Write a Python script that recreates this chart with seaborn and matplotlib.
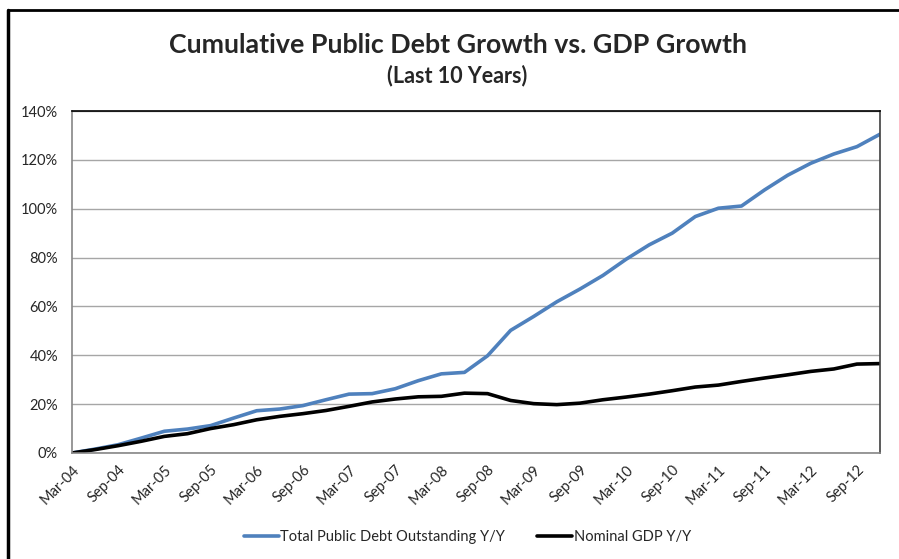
import pandas as pd
import numpy as np
import matplotlib
matplotlib.use('Agg')
import matplotlib.pyplot as plt
from matplotlib.lines import Line2D
from matplotlib.ticker import PercentFormatter
import seaborn as sns

# quarterly, Mar-04 .. Dec-12
quarters = pd.period_range('2004Q1', '2012Q4', freq='Q')
labels = [('Mar', 'Jun', 'Sep', 'Dec')[q.quarter - 1] + '-' + q.strftime('%y') for q in quarters]

debt = [0, 1.6, 3.4, 6.1, 8.9, 9.8, 11.2, 14.3, 17.3, 18.0, 19.4, 21.8, 24.1, 24.3,
        26.3, 29.6, 32.4, 33.0, 39.8, 50.2, 55.9, 61.9, 67.1, 72.7, 79.3, 85.2, 90.0,
        96.8, 100.2, 101.1, 107.7, 113.7, 118.6, 122.4, 125.4, 130.5]
gdp = [0, 1.4, 3.0, 4.8, 6.8, 7.9, 10.0, 11.6, 13.6, 15.0, 16.1, 17.4, 19.1, 20.9,
       22.1, 23.0, 23.2, 24.5, 24.3, 21.5, 20.2, 19.8, 20.4, 21.8, 22.9, 24.1, 25.5,
       27.0, 27.8, 29.3, 30.7, 32.0, 33.4, 34.4, 36.4, 36.6]

series_names = ['Total Public Debt Outstanding Y/Y', 'Nominal GDP Y/Y']

df = pd.DataFrame({
    'idx': list(range(len(labels))) * 2,
    'value': debt + gdp,
    'series': [series_names[0]] * len(debt) + [series_names[1]] * len(gdp),
})

sns.set_style('white')
plt.rcParams['font.family'] = ['Lato', 'DejaVu Sans']

fig = plt.figure(figsize=(8.99, 5.59), dpi=100)
ax = fig.add_axes([72 / 899, 1 - 453 / 559, 808 / 899, 342 / 559])

sns.lineplot(data=df, x='idx', y='value', hue='series', ax=ax,
             palette={series_names[0]: '#4F81BD', series_names[1]: 'black'},
             linewidth=2.6, legend=False)

ax.set_xlim(0, len(labels) - 1)
ax.set_ylim(0, 140)
ax.set_yticks(np.arange(0, 141, 20))
ax.yaxis.set_major_formatter(PercentFormatter(decimals=0))
ax.set_xticks(range(0, len(labels), 2))
ax.set_xticklabels(labels[::2], rotation=45, ha='right', rotation_mode='anchor')
ax.tick_params(axis='x', length=4, color='#868686', direction='out', labelsize=10.5, pad=3)
ax.tick_params(axis='y', length=0, labelsize=10.5, pad=10)
ax.set_xlabel('')
ax.set_ylabel('')
ax.grid(axis='y', color='#a6a6a6', linewidth=1)
ax.set_axisbelow(True)
for side in ['left', 'bottom']:
    ax.spines[side].set_color('#868686')
    ax.spines[side].set_linewidth(1.2)
ax.spines['top'].set_color('black')
ax.spines['right'].set_color('#404040')
ax.spines['top'].set_linewidth(1.2)
ax.spines['right'].set_linewidth(1.2)

fig.text(0.509, 1 - 45 / 559, 'Cumulative Public Debt Growth vs. GDP Growth',
         ha='center', va='center', fontsize=19.3, fontweight='bold')
fig.text(0.509, 1 - 76 / 559, '(Last 10 Years)', ha='center', va='center',
         fontsize=15.5, fontweight='bold')

handles = [Line2D([], [], color='#4F81BD', linewidth=2.6),
           Line2D([], [], color='black', linewidth=2.6)]
fig.legend(handles, series_names, loc='center', bbox_to_anchor=(0.52, 1 - 537 / 559),
           ncol=2, frameon=False, fontsize=10.5, handlelength=2.4, handletextpad=0.1,
           columnspacing=2.2)

# outer chart-area border
fig.add_artist(Line2D([8 / 899, 1], [1 - 10 / 559, 1 - 10 / 559], color='black',
                      linewidth=2, transform=fig.transFigure))
fig.add_artist(Line2D([8 / 899, 8 / 899], [0, 1 - 10 / 559], color='black',
                      linewidth=2.5, transform=fig.transFigure))

fig.savefig('out.png', dpi=100)
